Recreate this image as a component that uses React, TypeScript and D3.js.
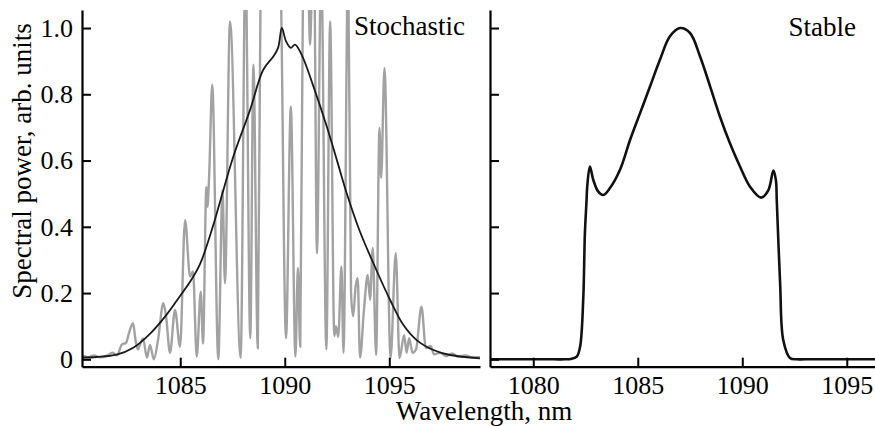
import React, { useEffect, useRef } from 'react';
import * as d3 from 'd3';

// stochastic regime: raw spectrum (grey) and averaged spectrum (black)
const stochWl = [
  1080.30, 1080.59, 1080.87, 1081.16, 1081.45, 1081.78, 1081.97, 1082.21, 1082.41, 1082.55,
  1082.74, 1082.88, 1082.98, 1083.08, 1083.22, 1083.41, 1083.55, 1083.74, 1083.94, 1084.19,
  1084.32, 1084.51, 1084.75, 1084.99, 1085.23, 1085.47, 1085.61, 1085.79, 1085.98, 1086.09,
  1086.25, 1086.30, 1086.38, 1086.53, 1086.82, 1087.02, 1087.14, 1087.38, 1087.89, 1088.12,
  1088.35, 1088.50, 1088.71, 1088.86, 1089.32, 1089.77, 1090.06, 1090.29, 1090.51, 1090.63,
  1090.74, 1090.87, 1091.04, 1091.14, 1091.21, 1091.31, 1091.40, 1091.54, 1091.74, 1091.99,
  1092.17, 1092.37, 1092.45, 1092.56, 1092.71, 1092.81, 1093.03, 1093.17, 1093.27, 1093.39,
  1093.49, 1093.60, 1093.79, 1093.97, 1094.08, 1094.21, 1094.37, 1094.53, 1094.61, 1094.77,
  1095.06, 1095.31, 1095.49, 1095.71, 1095.83, 1095.95, 1096.11, 1096.28, 1096.54, 1096.75,
  1096.98, 1097.14, 1097.43, 1097.72, 1098.00, 1098.29, 1098.63, 1098.96, 1099.34,
];
const stochRaw = [
  0.013, 0.006, 0.012, 0.006, 0.010, 0.020, 0.012, 0.045, 0.050, 0.080,
  0.109, 0.050, 0.030, 0.045, 0.063, 0.005, 0.043, 0.000, 0.060, 0.169,
  0.130, 0.020, 0.149, 0.038, 0.420, 0.250, 0.265, 0.008, 0.204, 0.048,
  0.520, 0.460, 0.550, 0.829, 0.000, 0.510, 0.230, 1.020, 0.005, 1.200,
  0.064, 0.889, 0.033, 1.250, 1.500, 1.250, 0.064, 0.763, 0.008, 0.276,
  0.038, 1.100, 1.250, 1.100, 0.950, 1.150, 1.200, 0.320, 1.200, 0.030,
  1.020, 0.070, 0.100, 0.068, 0.280, 0.020, 1.200, 0.200, 0.130, 0.220,
  0.245, 0.005, 0.150, 0.255, 0.180, 0.336, 0.013, 0.698, 0.548, 0.879,
  0.004, 0.320, 0.004, 0.073, 0.020, 0.064, 0.020, 0.030, 0.159, 0.034,
  0.040, 0.015, 0.020, 0.010, 0.018, 0.008, 0.012, 0.006, 0.006,
];

const avgWl = [
  1080.30, 1081.00, 1081.96, 1082.75, 1083.55, 1084.35, 1085.00, 1085.50, 1085.95, 1086.58,
  1086.90, 1087.54, 1088.34, 1088.97, 1089.45, 1089.68, 1089.86, 1090.06, 1090.29, 1090.49,
  1090.81, 1091.37, 1092.01, 1092.49, 1092.97, 1093.60, 1094.24, 1095.04, 1095.67, 1096.31,
  1097.11, 1097.91, 1099.34,
];
const avgPower = [
  0.005, 0.007, 0.014, 0.035, 0.077, 0.135, 0.192, 0.237, 0.288, 0.405,
  0.475, 0.612, 0.753, 0.874, 0.914, 0.940, 1.000, 0.960, 0.940, 0.950,
  0.919, 0.824, 0.703, 0.602, 0.500, 0.385, 0.290, 0.179, 0.104, 0.058,
  0.028, 0.013, 0.003,
];

// stable regime
const stableWl = [
  1077.93, 1079.00, 1080.00, 1081.00, 1081.50, 1081.80, 1082.08, 1082.24, 1082.39, 1082.47,
  1082.55, 1082.58, 1082.71, 1082.87, 1083.11, 1083.35, 1083.67, 1084.15, 1084.63, 1085.11,
  1085.59, 1086.06, 1086.54, 1087.02, 1087.50, 1087.98, 1088.46, 1088.93, 1089.41, 1089.89,
  1090.37, 1090.90, 1091.25, 1091.49, 1091.61, 1091.65, 1091.81, 1091.96, 1092.28, 1092.60,
  1093.00, 1094.00, 1095.00, 1096.35,
];
const stablePower = [
  0.000, 0.000, 0.000, 0.000, 0.000, 0.001, 0.008, 0.038, 0.180, 0.380,
  0.480, 0.520, 0.582, 0.542, 0.506, 0.496, 0.517, 0.572, 0.662, 0.743,
  0.824, 0.904, 0.975, 1.000, 0.985, 0.914, 0.824, 0.733, 0.652, 0.582,
  0.521, 0.488, 0.511, 0.570, 0.540, 0.480, 0.230, 0.058, 0.004, 0.000,
  0.000, 0.000, 0.000, 0.000,
];

const yTicks = [0, 0.2, 0.4, 0.6, 0.8, 1.0];
const leftTicks = [1085, 1090, 1095];
const rightTicks = [1080, 1085, 1090, 1095];

const FONT = '"Liberation Serif", "Times New Roman", serif';

const App = () => {
  const svgRef = useRef(null);

  useEffect(() => {
    const svg = d3.select(svgRef.current);
    svg.selectAll('*').remove();

    const top = 10;
    const bottom = 366.7;

    const y = d3.scaleLinear().domain([-0.0223, 1.0544]).range([bottom, top]);
    const xL = d3.scaleLinear().domain([1080.3, 1099.34]).range([82, 480]);
    const xR = d3.scaleLinear().domain([1077.93, 1096.35]).range([490, 875]);

    const defs = svg.append('defs');
    defs.append('clipPath').attr('id', 'clipL')
      .append('rect').attr('x', 82).attr('y', top).attr('width', 398).attr('height', bottom - top);
    defs.append('clipPath').attr('id', 'clipR')
      .append('rect').attr('x', 490).attr('y', top).attr('width', 385).attr('height', bottom - top);

    const rawLine = d3.line().x(d => xL(d[0])).y(d => y(d[1])).curve(d3.curveMonotoneX);
    const avgLine = d3.line().x(d => xL(d[0])).y(d => y(d[1])).curve(d3.curveCatmullRom.alpha(0.5));
    const stableLine = d3.line().x(d => xR(d[0])).y(d => y(d[1])).curve(d3.curveCatmullRom.alpha(0.5));

    svg.append('path')
      .datum(stochWl.map((w, i) => [w, stochRaw[i]]))
      .attr('clip-path', 'url(#clipL)')
      .attr('d', rawLine)
      .attr('fill', 'none')
      .attr('stroke', '#a2a2a2')
      .attr('stroke-width', 2.4)
      .attr('stroke-linejoin', 'round');

    svg.append('path')
      .datum(avgWl.map((w, i) => [w, avgPower[i]]))
      .attr('clip-path', 'url(#clipL)')
      .attr('d', avgLine)
      .attr('fill', 'none')
      .attr('stroke', '#1a1a1a')
      .attr('stroke-width', 1.8);

    svg.append('path')
      .datum(stableWl.map((w, i) => [w, stablePower[i]]))
      .attr('clip-path', 'url(#clipR)')
      .attr('d', stableLine)
      .attr('fill', 'none')
      .attr('stroke', '#111')
      .attr('stroke-width', 2.6);

    const styleAxis = (g, size) => {
      g.select('.domain').attr('stroke', '#000').attr('stroke-width', 2.2);
      g.selectAll('.tick line').attr('stroke', '#000').attr('stroke-width', 2);
      g.selectAll('.tick text').attr('fill', '#000').style('font-family', FONT).style('font-size', size + 'px');
    };

    const yFmt = d => (d === 0 ? '0' : d3.format('.1f')(d));

    svg.append('g')
      .attr('transform', 'translate(82,0)')
      .call(d3.axisLeft(y).tickValues(yTicks).tickFormat(yFmt).tickSize(-9).tickSizeOuter(0).tickPadding(9))
      .call(g => styleAxis(g, 26));

    svg.append('g')
      .attr('transform', 'translate(490,0)')
      .call(d3.axisLeft(y).tickValues(yTicks).tickFormat(() => '').tickSize(-9).tickSizeOuter(0))
      .call(g => styleAxis(g, 26));

    svg.append('g')
      .attr('transform', `translate(0,${bottom})`)
      .call(d3.axisBottom(xL).tickValues(leftTicks).tickFormat(d3.format('d')).tickSize(-9).tickSizeOuter(0).tickPadding(9))
      .call(g => styleAxis(g, 26));

    svg.append('g')
      .attr('transform', `translate(0,${bottom})`)
      .call(d3.axisBottom(xR).tickValues(rightTicks).tickFormat(d3.format('d')).tickSize(-9).tickSizeOuter(0).tickPadding(9))
      .call(g => styleAxis(g, 26));

    svg.append('text')
      .attr('x', 465).attr('y', 35)
      .attr('text-anchor', 'end')
      .style('font-family', FONT).style('font-size', '27px')
      .text('Stochastic');

    svg.append('text')
      .attr('x', 856).attr('y', 36)
      .attr('text-anchor', 'end')
      .style('font-family', FONT).style('font-size', '27px')
      .text('Stable');

    svg.append('text')
      .attr('x', 484).attr('y', 420)
      .attr('text-anchor', 'middle')
      .style('font-family', FONT).style('font-size', '27px')
      .text('Wavelength, nm');

    svg.append('text')
      .attr('transform', 'translate(31,161) rotate(-90)')
      .attr('text-anchor', 'middle')
      .style('font-family', FONT).style('font-size', '27px')
      .text('Spectral power, arb. units');
  }, []);

  return (
    <svg
      ref={svgRef}
      width={875}
      height={426}
      style={{ position: 'absolute', left: 0, top: 0, background: '#fff' }}
    />
  );
};

export default App;
